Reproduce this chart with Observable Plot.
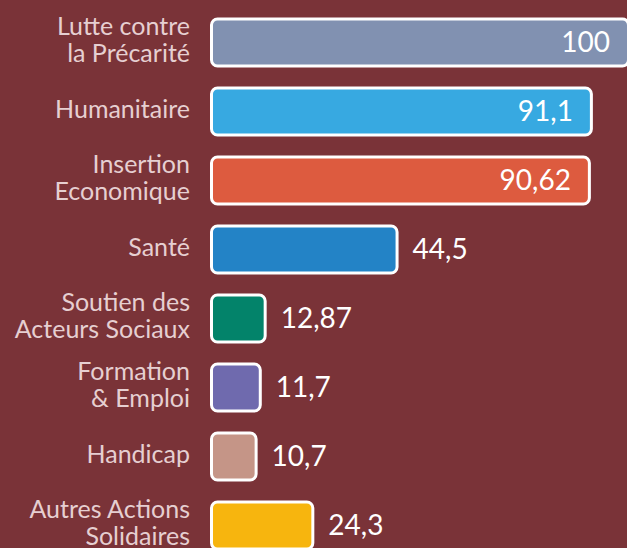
<!DOCTYPE html>
<html>
<head>
<meta charset="utf-8">
<script src="https://cdn.jsdelivr.net/npm/d3@7"></script>
<script src="https://cdn.jsdelivr.net/npm/@observablehq/plot@0.6"></script>
<style>
  html, body { margin: 0; padding: 0; background: #7a3338; overflow: hidden; }
  #chart { width: 627px; height: 548px; }
</style>
</head>
<body>
<div id="chart"></div>
<script>
const categories = [
  "Lutte contre\nla Précarité",
  "Humanitaire",
  "Insertion\nEconomique",
  "Santé",
  "Soutien des\nActeurs Sociaux",
  "Formation\n& Emploi",
  "Handicap",
  "Autres Actions\nSolidaires"
];
const values = [100, 91.1, 90.62, 44.5, 12.87, 11.7, 10.7, 24.3];
const colors = ["#8191b1", "#37a9e1", "#dd5b3f", "#2383c6", "#03836a", "#6f6aae", "#c59587", "#f7b50e"];

const data = categories.map((c, i) => ({cat: c, value: values[i], label: String(values[i]).replace(".", ",")}));
const inside = data.filter(d => d.value > 50);
const outside = data.filter(d => d.value <= 50);

const chart = Plot.plot({
  width: 627,
  height: 548,
  marginLeft: 0, marginRight: 0, marginTop: 0, marginBottom: 0,
  style: {background: "#7a3338", fontFamily: "Lato, 'Open Sans', sans-serif", overflow: "hidden"},
  x: {domain: [0, 100], range: [211.5, 628.5], axis: null},
  y: {domain: categories, range: [16.5, 550.7], paddingInner: 0.325, paddingOuter: 0, axis: null},
  color: {domain: categories, range: colors},
  marks: [
    Plot.barX(data, {x: "value", y: "cat", fill: "cat", stroke: "white", strokeWidth: 3, rx: 6}),
    Plot.text(data, {x: d => 0, y: "cat", text: "cat", dx: -22, dy: -3, textAnchor: "end", fill: "#e6cfd1", fontSize: 25, lineHeight: 1.07}),
    Plot.text(inside, {x: "value", y: "cat", text: "label", dx: -19, textAnchor: "end", fill: "white", fontSize: 28}),
    Plot.text(outside, {x: "value", y: "cat", text: "label", dx: 15, textAnchor: "start", fill: "white", fontSize: 28})
  ]
});
document.getElementById("chart").appendChild(chart);
</script>
</body>
</html>
